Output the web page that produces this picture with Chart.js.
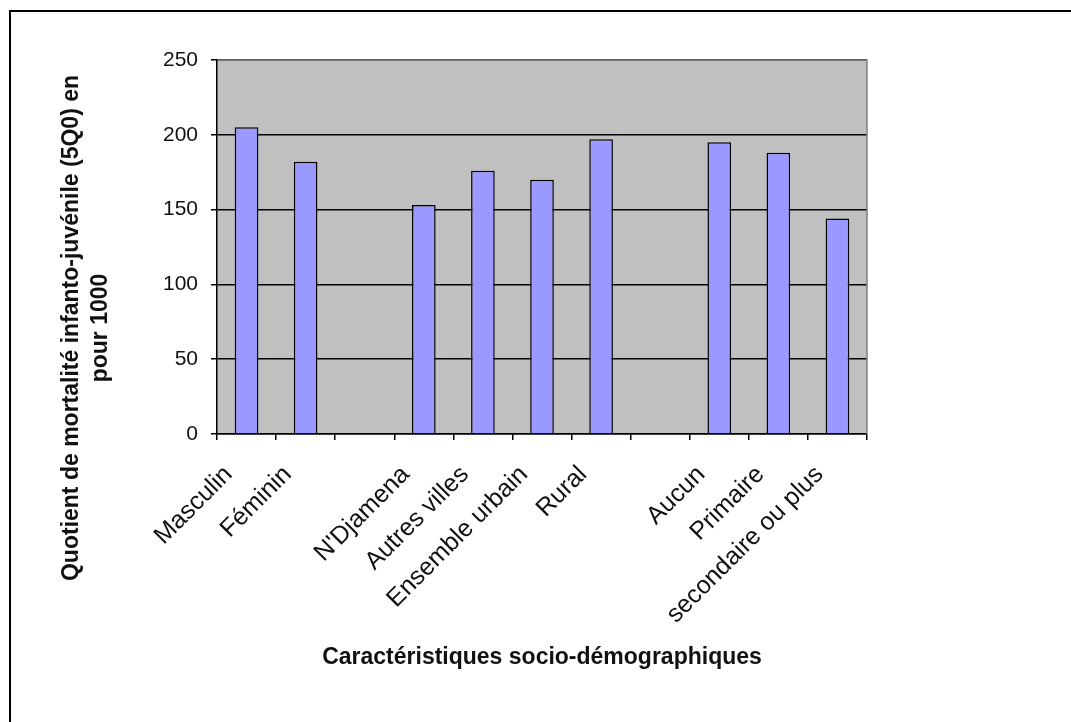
<!DOCTYPE html>
<html lang="fr">
<head>
<meta charset="utf-8">
<title>Quotient de mortalité infanto-juvénile</title>
<script src="https://cdn.jsdelivr.net/npm/chart.js@4.4.1/dist/chart.umd.min.js"></script>
<style>
  html, body { margin: 0; padding: 0; background: #fff; }
  #wrap { position: relative; width: 1071px; height: 722px; overflow: hidden; }
  #cadre {
    position: absolute; left: 9px; top: 10px; right: -5px; bottom: -5px;
    border-top: 2px solid #000; border-left: 2px solid #000;
  }
  #graphique { position: absolute; left: 0; top: 0; }
</style>
</head>
<body>
<div id="wrap">
  <div id="cadre"></div>
  <canvas id="graphique" width="1071" height="722"></canvas>
</div>
<script>
// ---- données ----
const categories = [
  "Masculin", "Féminin", "",
  "N'Djamena", "Autres villes", "Ensemble urbain", "Rural", "",
  "Aucun", "Primaire", "secondaire ou plus"
];
const valeurs = [205, 182, null, 153, 176, 170, 197, null, 195, 188, 144];
const yTicks = [0, 50, 100, 150, 200, 250];

const titreY = ["Quotient de mortalité infanto-juvénile (5Q0) en", "pour 1000"];
const titreX = "Caractéristiques socio-démographiques";

const POLICE = "Arial, 'Liberation Sans', sans-serif";

// fond gris de la zone de traçage + titres des axes
const zoneTrace = {
  id: "zoneTrace",
  beforeDraw(chart) {
    const { ctx, chartArea: a } = chart;
    ctx.save();
    ctx.fillStyle = "#c0c0c0";
    ctx.fillRect(a.left, a.top, a.right - a.left, a.bottom - a.top);
    ctx.restore();
  },
  afterDraw(chart) {
    const { ctx, chartArea: a } = chart;
    ctx.save();
    // bordure grise haut / droite
    ctx.strokeStyle = "#808080";
    ctx.lineWidth = 1.5;
    ctx.beginPath();
    ctx.moveTo(a.left + 1, a.top);
    ctx.lineTo(a.right, a.top);
    ctx.lineTo(a.right, a.bottom);
    ctx.stroke();

    ctx.fillStyle = "#111";
    ctx.textAlign = "center";
    ctx.textBaseline = "middle";
    // titre de l'axe X
    ctx.font = "bold 23px " + POLICE;
    ctx.fillText(titreX, (a.left + a.right) / 2, 658);
    // titre de l'axe Y (deux lignes)
    ctx.font = "bold 23px " + POLICE;
    ctx.translate(0, 328);
    ctx.rotate(-Math.PI / 2);
    ctx.fillText(titreY[0], 0, 72);
    ctx.fillText(titreY[1], 0, 101);
    ctx.restore();
  }
};

function createChart() {
  const ctx = document.getElementById("graphique");
  new Chart(ctx, {
    type: "bar",
    data: {
      labels: categories,
      datasets: [{
        data: valeurs,
        backgroundColor: "#9999ff",
        borderColor: "#000",
        borderWidth: 1.5,
        categoryPercentage: 1,
        barPercentage: 0.4
      }]
    },
    options: {
      responsive: false,
      animation: false,
      layout: { padding: { left: 0, top: 60, right: 204, bottom: 0 } },
      plugins: {
        legend: { display: false },
        tooltip: { enabled: false }
      },
      scales: {
        x: {
          afterFit(scale) { scale.height = 288; },
          grid: {
            offset: true,
            drawOnChartArea: false,
            drawTicks: true,
            tickLength: 6,
            color: "#000",
            lineWidth: 1.5
          },
          border: { color: "#000", width: 1.5 },
          ticks: {
            autoSkip: false,
            minRotation: 45,
            maxRotation: 45,
            labelOffset: -18,
            padding: 20,
            color: "#111",
            font: { family: POLICE, size: 25 }
          }
        },
        y: {
          min: 0,
          max: 250,
          afterFit(scale) { scale.width = 217; },
          afterBuildTicks(scale) { scale.ticks = yTicks.map(v => ({ value: v })); },
          grid: {
            drawTicks: true,
            tickLength: 6,
            color: "#000",
            lineWidth: 1.5
          },
          border: { color: "#000", width: 1.5 },
          ticks: {
            padding: 13,
            color: "#111",
            font: { family: POLICE, size: 21 }
          }
        }
      }
    },
    plugins: [zoneTrace]
  });
}

document.addEventListener("DOMContentLoaded", createChart);
</script>
</body>
</html>
